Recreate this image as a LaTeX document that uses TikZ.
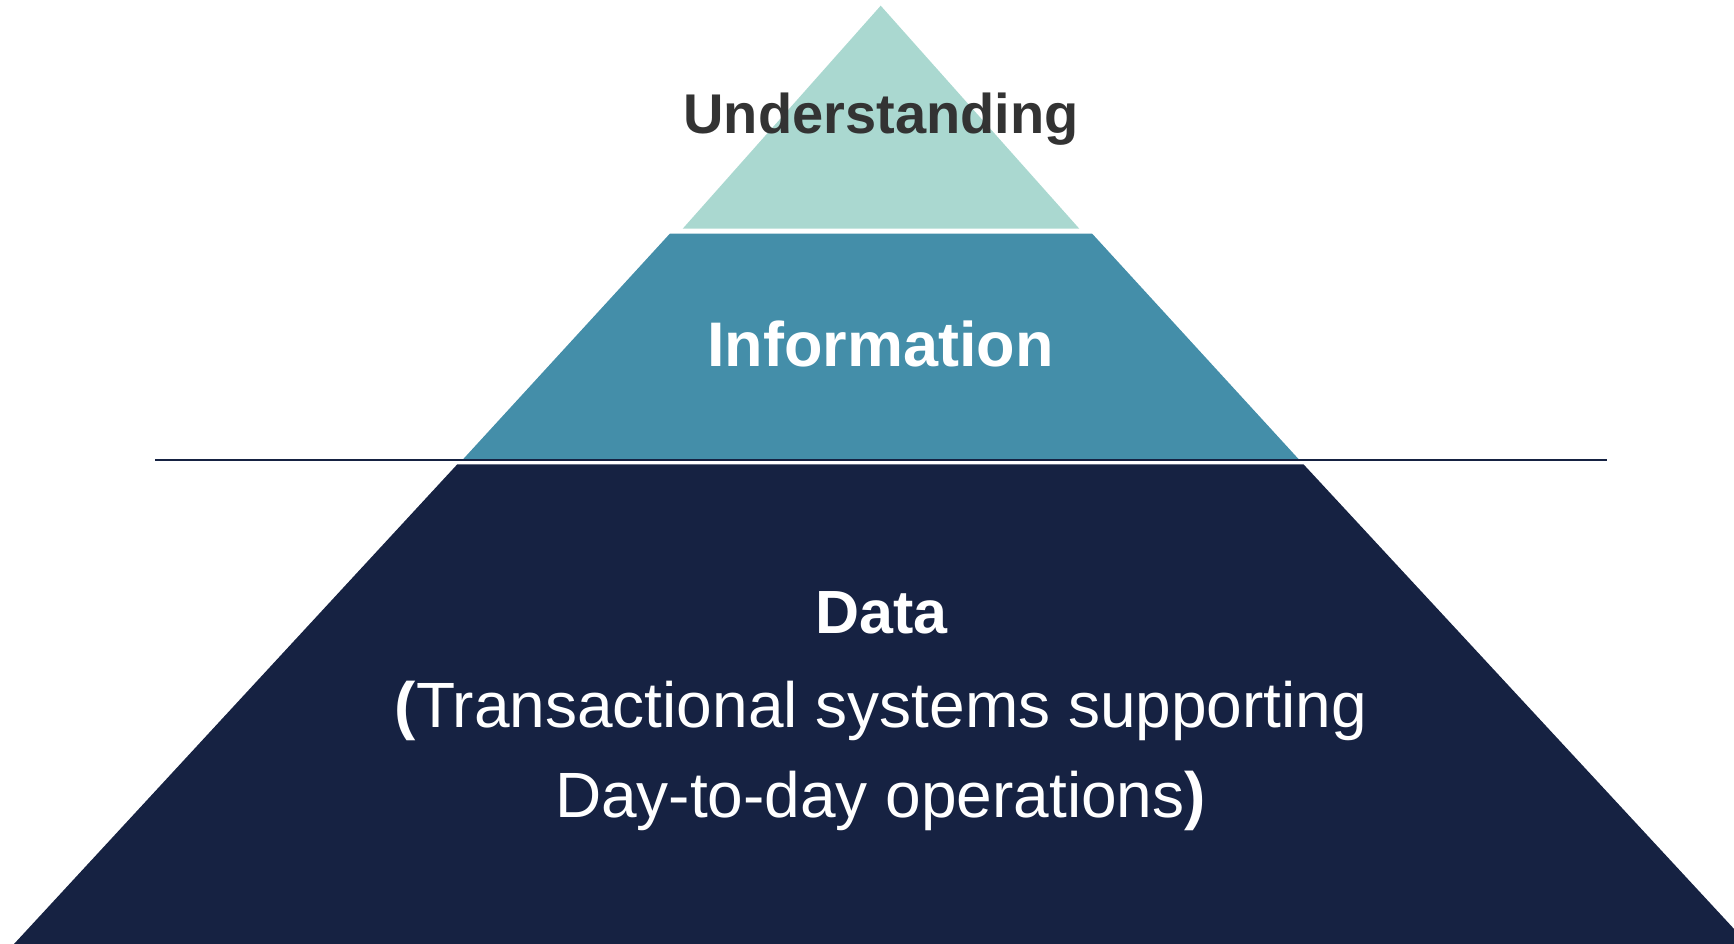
\documentclass[tikz,border=0pt]{standalone}
\usepackage{fontspec}
\setmainfont{Liberation Sans}
\definecolor{toptier}{HTML}{AAD8D0}
\definecolor{midtier}{HTML}{448EA9}
\definecolor{basetier}{HTML}{162242}
\definecolor{darktext}{HTML}{333333}
\begin{document}
\begin{tikzpicture}[x=1pt,y=-1pt,
  tier/.style={draw=none},
  label/.style={inner sep=0pt,anchor=base},
  divider/.style={draw=basetier,line width=1.7pt}]
\useasboundingbox (0,0) rectangle (1734,944);
\clip (0,0) rectangle (1734,944);
% tiers
\fill[toptier,tier] (880.7,5.7) -- (1079.3,228.7) -- (682.7,228.7) -- cycle;
\fill[midtier,tier] (670,233.5) -- (1092,233.5) -- (1298.5,459) -- (463.3,459) -- cycle;
\fill[basetier,tier] (457.3,464.3) -- (1303.5,464.3) -- (1748,944) -- (14,944) -- cycle;
% divider line
\coordinate (lineL) at (155,460);
\coordinate (lineR) at (1607,460);
\draw[divider] (lineL) -- (lineR);
% labels
\node[label,text=darktext,font=\fontsize{56}{60}\selectfont\bfseries] (und) at (881,134) {Understanding};
\node[label,text=white,font=\fontsize{63}{68}\selectfont\bfseries] (inf) at (880.5,366) {Information};
\node[label,text=white,font=\fontsize{61}{64}\selectfont\bfseries] (dat) at (881.5,633.3) {Data};
\node[label,text=white,font=\fontsize{64}{68}\selectfont] (sub1) at (881,727) {\textbf{(}Transactional systems supporting};
\node[label,text=white,font=\fontsize{64}{68}\selectfont] (sub2) at (880.5,817) {Day-to-day operations\textbf{)}};
\end{tikzpicture}
\end{document}
